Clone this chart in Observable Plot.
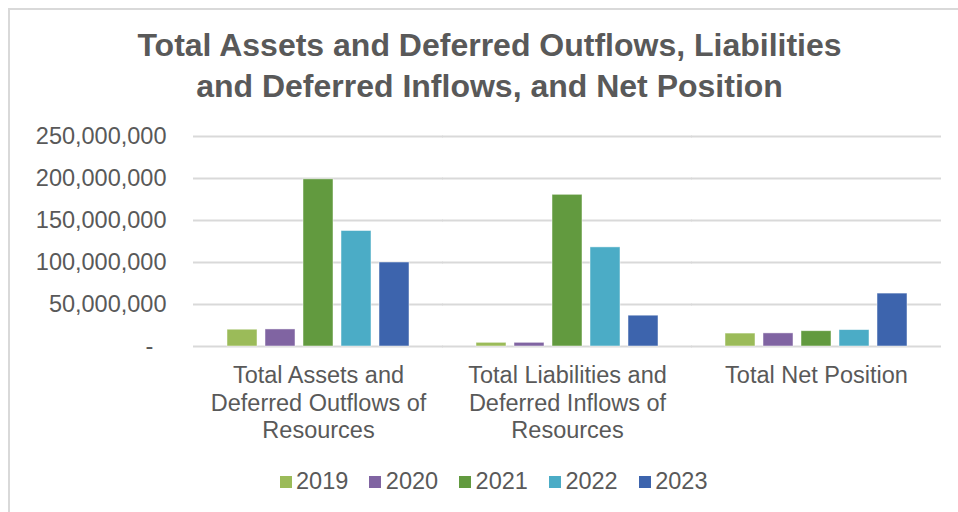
<!DOCTYPE html>
<html>
<head>
<meta charset="utf-8">
<script src="https://cdn.jsdelivr.net/npm/d3@7"></script>
<script src="https://cdn.jsdelivr.net/npm/@observablehq/plot@0.6"></script>
<style>
  html, body { margin: 0; padding: 0; background: #fff; }
  #wrap { position: relative; width: 958px; height: 512px; overflow: hidden; font-family: "Liberation Sans", Arial, sans-serif; color: #595959; }
  #frame { position: absolute; left: 8px; top: 8px; width: 1000px; height: 600px; border-left: 2.5px solid #d9d9d9; border-top: 2.5px solid #d9d9d9; pointer-events: none; }
  #title { position: relative; box-sizing: border-box; width: 958px; height: 110px; padding-top: 25px; padding-left: 21px; text-align: center; font-weight: bold; font-size: 32px; line-height: 40.6px; color: #595959; }
  #chart { position: relative; height: 335px; }
  #chart svg { display: block; }
  #legend { position: relative; box-sizing: border-box; width: 958px; height: 67px; padding-left: 29px; padding-top: 6px; display: flex; justify-content: center; align-items: center; font-size: 23.5px; }
  .item { display: flex; align-items: center; margin: 0 10.5px; }
  .sw { width: 12px; height: 12px; margin-right: 4.5px; }
</style>
</head>
<body>
<div id="wrap">
  <div id="frame"></div>
  <div id="title">Total Assets and Deferred Outflows, Liabilities<br>and Deferred Inflows, and Net Position</div>
  <div id="chart"></div>
  <div id="legend"></div>
</div>
<script>
const categories = [
  "Total Assets and Deferred Outflows of Resources",
  "Total Liabilities and Deferred Inflows of Resources",
  "Total Net Position"
];
const categoryLabels = [
  "Total Assets and\nDeferred Outflows of\nResources",
  "Total Liabilities and\nDeferred Inflows of\nResources",
  "Total Net Position"
];
const years = ["2019", "2020", "2021", "2022", "2023"];
const assetsValues      = [20.0e6, 20.3e6, 199.0e6, 137.5e6, 100.0e6];
const liabilitiesValues = [4.4e6, 4.4e6, 180.6e6, 118.0e6, 36.7e6];
const netPositionValues = [15.4e6, 15.6e6, 18.2e6, 19.5e6, 63.0e6];
const yTicks = [0, 50e6, 100e6, 150e6, 200e6, 250e6];
const yearColors = ["#9bbb59", "#8064a2", "#629a3f", "#4bacc6", "#3d64ad"];

const series = [assetsValues, liabilitiesValues, netPositionValues];
const data = [];
categories.forEach((c, i) => years.forEach((y, j) => data.push({category: c, year: y, value: series[i][j]})));
const labelOf = new Map(categories.map((c, i) => [c, categoryLabels[i]]));
const fmt = d3.format(",");

const chart = Plot.plot({
  width: 958,
  height: 335,
  marginLeft: 193,
  marginRight: 18,
  marginTop: 26,
  marginBottom: 99,
  style: {fontFamily: "'Liberation Sans', Arial, sans-serif", fontSize: "23.5px", color: "#595959", background: "transparent", overflow: "visible"},
  fx: {domain: categories, paddingInner: 0.263, paddingOuter: 0.1315, label: null},
  x: {domain: years, paddingInner: 0.22, paddingOuter: 0, axis: null},
  y: {domain: [0, 250e6], axis: null},
  color: {domain: years, range: yearColors},
  marks: [
    Plot.ruleY(yTicks, {stroke: "#d9d9d9", strokeWidth: 2, insetLeft: -33, insetRight: -33}),
    Plot.barY(data, {fx: "category", x: "year", y: "value", fill: "year", stroke: "#ffffff", strokeOpacity: 0.6, strokeWidth: 0.8, inset: 0}),
    Plot.axisY(yTicks, {tickSize: 0, tickPadding: 60, fontSize: 23.5, label: null,
      tickFormat: d => d === 0 ? "-\u00a0\u00a0" : fmt(d)}),
    Plot.axisFx({anchor: "bottom", tickSize: 0, tickPadding: 17, fontSize: 23.5, lineHeight: 1.17, label: null,
      tickFormat: c => labelOf.get(c)})
  ]
});
document.getElementById("chart").appendChild(chart);

const legend = d3.select("#legend");
years.forEach((y, i) => {
  const it = legend.append("div").attr("class", "item");
  it.append("div").attr("class", "sw").style("background", yearColors[i]);
  it.append("span").text(y);
});
</script>
</body>
</html>
